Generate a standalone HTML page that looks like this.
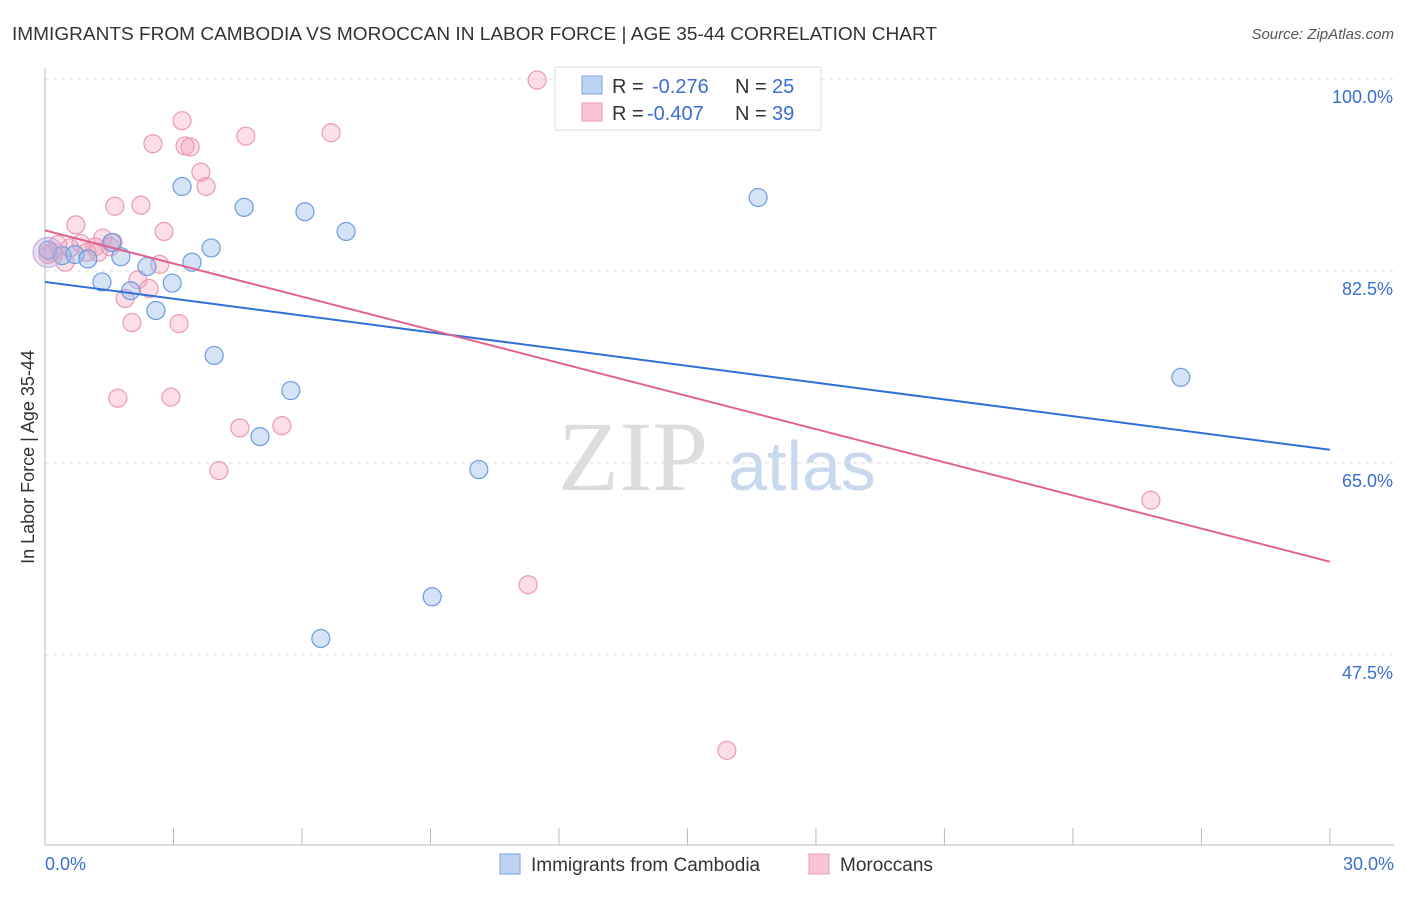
<!DOCTYPE html>
<html><head><meta charset="utf-8"><style>
body{margin:0;background:#fff;font-family:"Liberation Sans",sans-serif;}
</style></head><body>
<svg id="c" width="1406" height="892" xmlns="http://www.w3.org/2000/svg">
<text x="12" y="40" font-size="18" fill="#333" textLength="925" lengthAdjust="spacingAndGlyphs">IMMIGRANTS FROM CAMBODIA VS MOROCCAN IN LABOR FORCE | AGE 35-44 CORRELATION CHART</text>
<text x="1394" y="39" font-size="15" fill="#555" font-style="italic" text-anchor="end">Source: ZipAtlas.com</text>
<text x="633" y="490" font-size="100" fill="#ddd" font-family="Liberation Serif,serif" text-anchor="middle">ZIP</text>
<text x="802" y="490" font-size="70" fill="#c8d8ee" text-anchor="middle">atlas</text>
<g id="grid"></g><g id="pts"></g><g id="lines"></g>
<text transform="translate(34,457) rotate(-90)" font-size="18" fill="#333" text-anchor="middle">In Labor Force | Age 35-44</text>
<g>
<rect x="555" y="67" width="266" height="63" fill="#fff" stroke="#ddd"/>
<rect x="582" y="76" width="20" height="18" fill="#bcd3f3" stroke="#7aa4e0"/>
<rect x="582" y="103" width="20" height="18" fill="#f9c5d4" stroke="#eb9ab3"/>
<text x="612" y="93" font-size="20" fill="#333">R =</text>
<text x="652" y="93" font-size="20" fill="#3a6fd0">-0.276</text>
<text x="735" y="93" font-size="20" fill="#333">N =</text>
<text x="772" y="93" font-size="20" fill="#3a6fd0">25</text>
<text x="612" y="120" font-size="20" fill="#333">R =</text>
<text x="647" y="120" font-size="20" fill="#3a6fd0">-0.407</text>
<text x="735" y="120" font-size="20" fill="#333">N =</text>
<text x="772" y="120" font-size="20" fill="#3a6fd0">39</text>
</g>
<g>
<rect x="500" y="854" width="20" height="20" fill="#bcd3f3" stroke="#7aa4e0"/>
<text x="531" y="871" font-size="19" fill="#333">Immigrants from Cambodia</text>
<rect x="809" y="854" width="20" height="20" fill="#f9c5d4" stroke="#eb9ab3"/>
<text x="840" y="871" font-size="19" fill="#333">Moroccans</text>
</g>
</svg>
<script>
const xTicks=[0,3,6,9,12,15,18,21,24,27,30];
const yTicks=[100,82.5,65,47.5];
const yTickLabels=["100.0%","82.5%","65.0%","47.5%"];
const cambX=[0.07,0.40,0.70,1.0,1.56,1.77,1.33,2.0,2.38,2.59,2.97,3.20,3.43,3.88,3.95,4.65,5.02,5.74,6.07,7.03,6.44,9.04,10.13,16.65,26.52];
const cambY=[84.4,83.9,84.0,83.6,85.1,83.8,81.5,80.7,82.9,78.9,81.4,90.2,83.3,84.6,74.8,88.3,67.4,71.6,87.9,86.1,49.0,52.8,64.4,89.2,72.8];
const morX=[11.49,3.20,2.52,3.27,3.39,4.69,6.68,3.64,3.76,1.63,2.24,0.72,2.78,1.35,0.30,0.84,1.17,1.52,1.24,0.47,0.16,2.68,2.17,2.43,1.87,2.03,3.13,1.70,2.94,4.55,5.53,4.06,11.28,15.92,25.82,0.07,0.98,1.59,0.58];
const morY=[99.9,96.2,94.1,93.9,93.8,94.8,95.1,91.5,90.2,88.4,88.5,86.7,86.1,85.5,84.9,85.0,84.7,84.7,84.2,83.3,84.2,83.1,81.7,80.9,80.0,77.8,77.7,70.9,71.0,68.2,68.4,64.3,53.9,38.8,61.6,84.0,84.2,85.1,84.6];
const cambTrend=[81.5,66.2];
const morTrend=[86.2,56.0];
const X=v=>45+v*42.83, Y=v=>79+(100-v)*10.97;
const NS="http://www.w3.org/2000/svg";
function mk(p,t,a){const e=document.createElementNS(NS,t);for(const k in a)e.setAttribute(k,a[k]);p.appendChild(e);return e;}
const g=document.getElementById('grid');
yTicks.forEach((t,i)=>{
 const l=mk(g,'line',{x1:45,x2:1394,y1:Y(t),y2:Y(t),stroke:'#ddd','stroke-dasharray':'4,4'});
 
 
 const tx=mk(g,'text',{x:1393,y:Y(t)+24,'font-size':18,fill:'#3a6fd0','text-anchor':'end'});tx.textContent=yTickLabels[i];
 
 
});
mk(g,'line',{x1:45,x2:45,y1:68,y2:845,stroke:'#bbb'});
mk(g,'line',{x1:45,x2:1394,y1:845,y2:845,stroke:'#bbb'});
xTicks.forEach(t=>{const l=mk(g,'line',{x1:X(t),x2:X(t),y1:828,y2:845,stroke:'#bbb'});
 
 });
let a=mk(g,'text',{x:45,y:870,'font-size':18,fill:'#3a6fd0'});a.textContent='0.0%';


a=mk(g,'text',{x:1394,y:870,'font-size':18,fill:'#3a6fd0','text-anchor':'end'});a.textContent='30.0%';


const p=document.getElementById('pts');
morX.forEach((v,i)=>{const c=mk(p,'circle',{cx:X(v),cy:Y(morY[i]),r:9,fill:'rgba(244,160,185,0.35)',stroke:'#eb9ab3','stroke-width':1.2});
 
 });
cambX.forEach((v,i)=>{const c=mk(p,'circle',{cx:X(v),cy:Y(cambY[i]),r:9,fill:'rgba(150,185,235,0.4)',stroke:'#6f9be0','stroke-width':1.2});
 
 });
const bb=mk(p,'circle',{cx:X(0.07),cy:Y(84.2),r:15,fill:'rgba(200,170,210,0.4)',stroke:'#b9a6d8'});


const L=document.getElementById('lines');
let t1=mk(L,'line',{x1:X(0),x2:X(30),y1:Y(cambTrend[0]),y2:Y(cambTrend[1]),stroke:'#2f6fd6','stroke-width':2});


let t2=mk(L,'line',{x1:X(0),x2:X(30),y1:Y(morTrend[0]),y2:Y(morTrend[1]),stroke:'#e0638f','stroke-width':2});


</script>
</body></html>
